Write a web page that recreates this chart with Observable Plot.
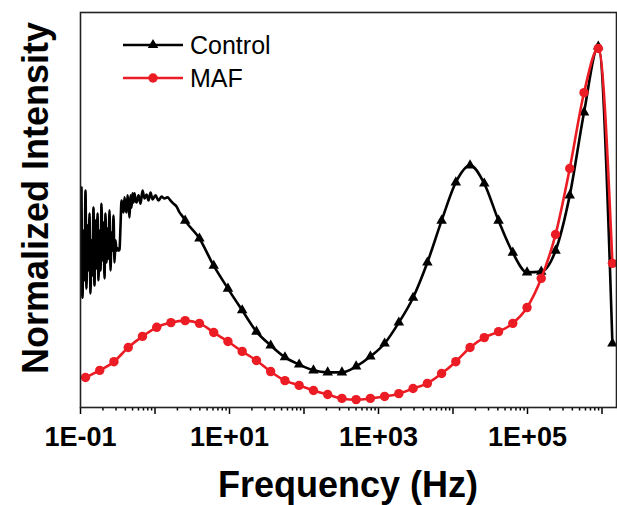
<!DOCTYPE html>
<html><head><meta charset="utf-8">
<script src="https://cdn.jsdelivr.net/npm/d3@7"></script>
<script src="https://cdn.jsdelivr.net/npm/@observablehq/plot@0.6"></script>
<style>
body{margin:0;background:#fff;}
#chart{position:relative;width:617px;height:505px;overflow:hidden;}
</style></head><body><div id="chart"></div>
<script>
// Shared measurement frequencies (Hz)
const gridHz = [0.1167,0.1811,0.2812,0.4375,0.679,1.054,1.637,2.541,3.95,6.14,9.53,14.8,23.0,35.7,55.5,86.1,134,208,323,501,778,1208,1875,2911,4529,7031,10910,16940,26300,40900,63500,98600,153000,238000,369000,574000,891000,1380000];
// MAF normalized intensity at gridHz
const mafI = [0.076,0.094,0.116,0.152,0.180,0.203,0.215,0.220,0.213,0.190,0.167,0.142,0.119,0.091,0.068,0.056,0.043,0.033,0.023,0.020,0.023,0.028,0.035,0.048,0.061,0.086,0.116,0.152,0.177,0.192,0.213,0.253,0.327,0.438,0.605,0.797,0.909,0.365];
// Control: noisy low-frequency part
const controlLowHz = [0.1031,0.1063,0.1097,0.1131,0.1167,0.1203,0.1241,0.1280,0.1320,0.1362,0.1405,0.1449,0.1494,0.1541,0.1590,0.1640,0.1691,0.1744,0.1799,0.1856,0.1914,0.1974,0.2036,0.2100,0.2166,0.2234,0.2304,0.2377,0.2451,0.2528,0.2608,0.2690,0.2774,0.2861,0.2951,0.3044,0.3140,0.3238,0.3340,0.3445,0.3553,0.3665,0.3780,0.3898,0.4021,0.4147,0.4277,0.4412,0.4550,0.4693,0.4841,0.4993,0.5150,0.5311,0.5478,0.5650,0.6011,0.6394,0.6802,0.7236,0.7698,0.8189,0.8711,0.9267,1.016,1.114,1.223,1.341,1.472,1.615,1.772,1.944,2.133,2.339];
const controlLowI = [0.557,0.278,0.448,0.322,0.549,0.301,0.461,0.347,0.491,0.289,0.423,0.334,0.506,0.309,0.473,0.352,0.491,0.322,0.448,0.347,0.516,0.372,0.468,0.327,0.491,0.367,0.453,0.377,0.499,0.347,0.443,0.397,0.486,0.367,0.423,0.397,0.403,0.397,0.400,0.461,0.524,0.511,0.494,0.532,0.504,0.494,0.537,0.516,0.481,0.537,0.506,0.542,0.519,0.542,0.524,0.519,0.537,0.516,0.549,0.529,0.539,0.524,0.544,0.527,0.537,0.524,0.534,0.529,0.532,0.524,0.516,0.509,0.494,0.484];
// Control at gridHz[7..]
const controlI = [0.473,0.428,0.359,0.301,0.246,0.192,0.157,0.127,0.109,0.094,0.089,0.089,0.104,0.129,0.162,0.215,0.278,0.367,0.473,0.570,0.613,0.567,0.473,0.392,0.342,0.344,0.397,0.537,0.747,0.914,0.162];
// Axis
const xMax = 1.566e6;
const decadeTicks = [0.1,1,10,100,1e3,1e4,1e5,1e6];
const labelTicks = [0.1,10,1000,100000];
const tickLabels = ["1E-01","1E+01","1E+03","1E+05"];
const seriesNames = ["Control","MAF"];
const seriesColors = ["#000000","#ec1c24"];

const minorTicks = [];
for (const d of decadeTicks) for (let m = 2; m <= 9; m++) { if (d*m <= xMax) minorTicks.push(d*m); }

const ctrlMarkers = controlI.map((v,i) => ({f: gridHz[i+7], v}));
const ctrl = [...controlLowHz.map((f,i) => ({f, v: controlLowI[i]})), ...ctrlMarkers];
const maf = mafI.map((v,i) => ({f: gridHz[i], v}));

const FONT = "'Liberation Sans', Arial, Helvetica, sans-serif";

const plot = Plot.plot({
  width: 617, height: 505,
  marginLeft: 80, marginRight: 1, marginTop: 12, marginBottom: 98,
  style: {fontFamily: FONT, background: "#fff", color: "#000"},
  x: {type: "log", domain: [0.1, xMax]},
  y: {domain: [0, 1], axis: null},
  marks: [
    Plot.axisX({ticks: minorTicks, tickSize: 3.5, tickFormat: () => "", strokeWidth: 1.5, label: null}),
    Plot.axisX({ticks: decadeTicks, tickSize: 7, tickFormat: () => "", strokeWidth: 1.5, label: null}),
    Plot.axisX({ticks: labelTicks, tickSize: 0, tickPadding: 19, tickFormat: d => tickLabels[labelTicks.indexOf(d)], fontSize: 27, fontWeight: "bold", label: null}),
    Plot.line(ctrl, {x: "f", y: "v", stroke: seriesColors[0], strokeWidth: 2.6, curve: "monotone-x"}),
    Plot.dot(ctrlMarkers, {x: "f", y: "v", symbol: "triangle", r: 3.9, fill: seriesColors[0], stroke: "none"}),
    Plot.line(maf, {x: "f", y: "v", stroke: seriesColors[1], strokeWidth: 2.6, curve: "monotone-x"}),
    Plot.dot(maf, {x: "f", y: "v", symbol: "circle", r: 4.7, fill: seriesColors[1], stroke: "none"}),
    Plot.frame({stroke: "#222", strokeWidth: 1.6})
  ]
});
document.getElementById("chart").appendChild(plot);

const svg = d3.select(plot);
// axis titles
svg.append("text").attr("x", 348).attr("y", 497).attr("text-anchor", "middle")
  .attr("font-family", FONT).attr("font-size", 36).attr("font-weight", "bold").attr("fill", "#000")
  .text("Frequency (Hz)");
svg.append("text").attr("transform", "translate(48,198) rotate(-90)").attr("text-anchor", "middle")
  .attr("font-family", FONT).attr("font-size", 36).attr("font-weight", "bold").attr("fill", "#000")
  .text("Normalized Intensity");
// legend
const leg = svg.append("g");
const legY = [45, 78];
seriesNames.forEach((name, i) => {
  const y = legY[i];
  leg.append("line").attr("x1", 123).attr("x2", 183).attr("y1", y).attr("y2", y)
    .attr("stroke", seriesColors[i]).attr("stroke-width", 2.6);
  const sym = i === 0 ? d3.symbolTriangle : d3.symbolCircle;
  const size = i === 0 ? Math.PI * 3.9 * 3.9 : Math.PI * 4.7 * 4.7;
  leg.append("path").attr("d", d3.symbol(sym, size)()).attr("transform", `translate(153,${y})`)
    .attr("fill", seriesColors[i]);
  leg.append("text").attr("x", 190).attr("y", y).attr("dy", "0.36em").attr("text-anchor", "start")
    .attr("font-family", FONT).attr("font-size", 25).attr("fill", "#000").text(name);
});
</script></body></html>
